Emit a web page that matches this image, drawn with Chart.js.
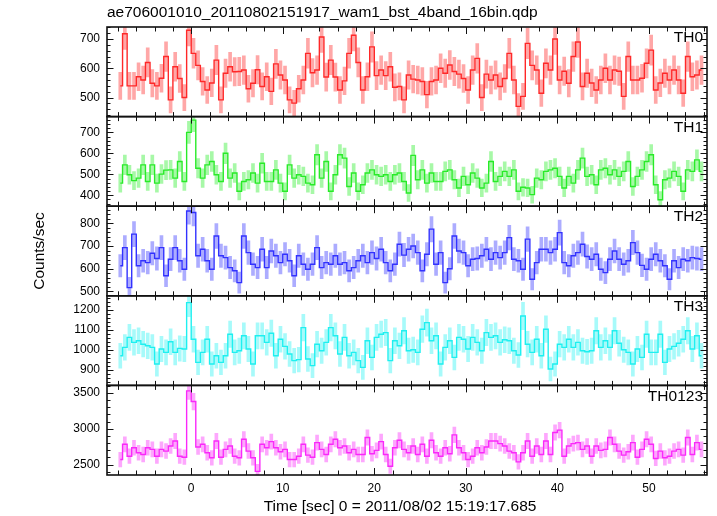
<!DOCTYPE html>
<html>
<head>
<meta charset="utf-8">
<script src="https://cdn.jsdelivr.net/npm/chart.js@4.4.1/dist/chart.umd.min.js"></script>
<style>
	html,body{margin:0;padding:0;background:#fff}
	#wrap{position:relative;width:717px;height:516px}
</style>
</head>
<body>
<div id="wrap"><canvas id="lcCanvas" width="717" height="516"></canvas></div>
<script>
/* 시간 빈 */
const binStart = -7.75		// first bin center [sec]
const binSec = 0.5
const errBinSec = 0.25		// accumulation time of the original bins (poisson error)

const fileTitle = 'ae706001010_20110802151917_wam1_bst_4band_16bin.qdp'
const xTitle = 'Time [sec] 0 = 2011/08/02 15:19:17.685'
const yTitle = 'Counts/sec'
const bandNames = ['TH0','TH1','TH2','TH3','TH0123']

/* counts/sec */
const th0 = [540,718,540,540,571,560,620,549,540,566,640,492,605,565,500,730,651,610,555,526,
	550,628,492,583,605,588,589,594,530,549,595,538,571,521,615,577,560,492,481,530,
	560,651,585,594,707,570,628,570,526,557,651,713,620,526,571,673,575,594,575,605,
	535,538,492,577,
	563,560,555,510,555,560,600,583,611,589,580,565,526,594,634,500,580,560,577,538,
	565,651,560,470,504,685,610,594,515,617,594,700,560,590,549,640,690,538,583,550,
	526,560,600,560,594,590,504,640,560,560,566,617,662,526,550,583,560,594,560,515,
	640,571,577,594]
const th1 = [458,545,498,470,482,545,466,545,458,501,520,521,482,561,466,700,758,529,482,545,
	561,498,466,600,482,506,419,466,474,506,458,553,466,466,521,458,419,545,482,498,
	490,458,450,593,482,561,419,498,593,577,442,506,419,450,506,521,498,490,498,466,
	498,506,466,411,
	590,474,521,458,506,466,466,514,521,474,435,490,450,506,482,435,458,561,466,490,
	514,490,521,419,438,435,403,482,474,514,521,529,490,435,490,458,521,577,490,498,
	450,521,529,498,521,490,514,561,442,490,521,561,593,450,379,474,482,514,490,419,
	521,514,569,514]
const th2 = [613,693,517,752,613,635,627,668,645,693,569,642,693,635,598,854,847,657,686,635,
	598,744,657,649,605,591,539,744,671,620,605,686,605,678,657,627,664,635,569,657,
	620,598,620,693,605,627,620,657,620,627,591,605,635,657,627,671,645,686,627,591,
	620,708,660,686,
	700,671,591,664,774,620,671,539,600,744,678,671,613,642,645,657,686,642,671,649,
	671,737,642,635,598,730,554,627,686,686,671,686,759,627,613,657,671,708,654,642,
	664,598,583,642,678,642,620,635,715,671,615,598,642,664,635,613,554,635,605,642,
	635,649,645,642]
const th3 = [969,1011,1061,1036,1044,1027,1019,1011,928,1003,986,1039,986,1006,1003,1235,1052,936,986,1052,
	928,969,936,969,1077,986,994,1069,1003,928,1069,1069,1036,1082,969,1052,1016,978,945,950,
	1110,953,920,1027,994,1036,1110,1069,978,1061,969,986,945,911,1044,961,1061,1077,1085,945,
	1044,1019,1094,994,
	999,986,1102,1135,1044,1069,928,1011,1044,961,1061,1052,1003,1061,1036,994,1085,1061,1069,1036,
	1049,1044,994,973,1168,1027,986,1052,969,1102,903,928,1027,1011,1052,1011,1036,994,989,994,
	1094,1011,1044,1011,1094,1032,999,986,928,1003,961,1077,986,986,1077,936,1003,1016,1032,1052,
	1094,1003,1069,969]
const th0123 = [2570,2783,2617,2735,2665,2641,2735,2712,2617,2712,2688,2759,2830,2617,2603,3530,3380,2745,2783,2665,
	2594,2830,2603,2712,2759,2617,2594,2853,2688,2594,2405,2783,2735,2820,2735,2679,2712,2570,2570,2617,
	2783,2632,2603,2806,2712,2641,2783,2853,2735,2759,2665,2712,2641,2641,2877,2651,2698,2820,2641,2476,
	2735,2839,2712,2665,
	2759,2641,2783,2617,2839,2665,2617,2735,2651,2915,2735,2665,2570,2617,2735,2665,2745,2830,2830,2792,
	2759,2688,2665,2537,2665,2830,2617,2759,2641,2830,2641,2948,2981,2617,2759,2792,2806,2712,2759,2617,
	2759,2698,2712,2877,2783,2688,2632,2679,2806,2603,2712,2853,2783,2585,2688,2594,2617,2688,2712,2632,
	2877,2641,2806,2712]

/* 축 범위 */
const xMin = -9.2, xMax = 56.35
const yMin = [435,348,481,821,2354]
const yMax = [741,775,875,1269,3606]
const yMinor = [20,20,20,20,100]
const yMajor = [100,100,100,100,500]

const lineColors = ['rgb(255,40,40)','rgb(40,235,40)','rgb(50,50,255)','rgb(30,240,240)','rgb(250,40,250)']
const errColors = ['rgba(255,60,60,0.45)','rgba(60,240,60,0.45)','rgba(70,70,255,0.45)','rgba(60,245,245,0.45)','rgba(250,60,250,0.45)']

const bandRates = [th0,th1,th2,th3,th0123]
const fontFamily = '"Liberation Sans", Arial, sans-serif'

let times = []
for(let i=0;i<th0.length;i++){
	times.push(binStart + i*binSec)
}

let datasets = []
bandRates.forEach((rates,p) => {
	datasets.push({
		type : 'line'
		,yAxisID : 'y'+p
		,order : 0
		,data : rates.map((v,i) => ({x: times[i], y: v}))
		,stepped : 'middle'
		,borderColor : lineColors[p]
		,borderWidth : 1.4
		,pointRadius : 0
		,fill : false
	})
	datasets.push({
		type : 'bar'
		,yAxisID : 'y'+p
		,order : 1
		,grouped : false
		,data : rates.map((v,i) => {
			let e = Math.sqrt(v*errBinSec)/errBinSec
			return {x: times[i], y: [v-e, v+e]}
		})
		,backgroundColor : errColors[p]
		,barThickness : 3
	})
})

let scales = {
	x : {
		type : 'linear'
		,min : xMin
		,max : xMax
		,offset : false
		,afterFit : s => { s.height = 41 }
		,grid : {display:false, drawTicks:false}
		,border : {display:false}
		,ticks : {
			stepSize : 2
			,autoSkip : false
			,maxRotation : 0
			,includeBounds : false
			,padding : 6
			,color : '#000'
			,callback : v => (Math.round(v) % 10 === 0 ? Math.round(v) : '')
		}
	}
}
bandNames.forEach((name,p) => {
	scales['y'+p] = {
		type : 'linear'
		,position : 'left'
		,stack : 'bands'
		,stackWeight : 1
		,weight : 5-p
		,min : yMin[p]
		,max : yMax[p]
		,offset : false
		,afterFit : s => { s.width = 107 }
		,grid : {display:false, drawTicks:false}
		,border : {display:false}
		,ticks : {
			stepSize : yMinor[p]
			,autoSkip : false
			,includeBounds : false
			,padding : 7
			,color : '#000'
			,callback : v => (v % yMajor[p] === 0 ? v : '')
		}
	}
})

/* 안쪽 눈금, 테두리, 글자 */
const qdpFrame = {
	id : 'qdpFrame'
	,afterDatasetsDraw(chart){
		const ctx = chart.ctx
		const xs = chart.scales.x
		ctx.save()
		ctx.strokeStyle = '#111'
		bandNames.forEach((name,p) => {
			const ys = chart.scales['y'+p]
			const top = ys.top, bottom = ys.bottom, left = xs.left, right = xs.right
			ctx.lineWidth = 1
			ctx.beginPath()
			xs.ticks.forEach(t => {
				const px = Math.round(xs.getPixelForValue(t.value)) + 0.5
				const len = (Math.round(t.value) % 10 === 0) ? 7 : 4.5
				ctx.moveTo(px, top); ctx.lineTo(px, top+len)
				ctx.moveTo(px, bottom); ctx.lineTo(px, bottom-len)
			})
			ys.ticks.forEach(t => {
				const py = Math.round(ys.getPixelForValue(t.value)) + 0.5
				const len = (t.value % yMajor[p] === 0) ? 6.5 : 3.5
				ctx.moveTo(left, py); ctx.lineTo(left+len, py)
				ctx.moveTo(right, py); ctx.lineTo(right-len, py)
			})
			ctx.stroke()
			ctx.lineWidth = 1.6
			ctx.strokeRect(left, top, right-left, bottom-top)

			ctx.fillStyle = '#000'
			ctx.font = '15.5px ' + fontFamily
			ctx.textAlign = 'right'
			ctx.textBaseline = 'middle'
			ctx.fillText(name, right-4, top+11)
		})

		ctx.fillStyle = '#000'
		ctx.font = '15.5px ' + fontFamily
		ctx.textBaseline = 'middle'
		ctx.textAlign = 'left'
		ctx.fillText(fileTitle, 107, 13)
		ctx.textAlign = 'center'
		ctx.fillText(xTitle, 400, 507)
		ctx.translate(40, 251)
		ctx.rotate(-Math.PI/2)
		ctx.fillText(yTitle, 0, 0)
		ctx.restore()
	}
}

const lcChart = new Chart(document.getElementById('lcCanvas'), {
	type : 'line'
	,data : { datasets : datasets }
	,options : {
		responsive : false
		,animation : false
		,events : []
		,layout : { padding : {top:27, right:10, left:0, bottom:0} }
		,font : { family : fontFamily, size : 15.5 }
		,plugins : { legend : {display:false}, tooltip : {enabled:false} }
		,scales : scales
	}
	,plugins : [qdpFrame]
})
</script>
</body>
</html>
